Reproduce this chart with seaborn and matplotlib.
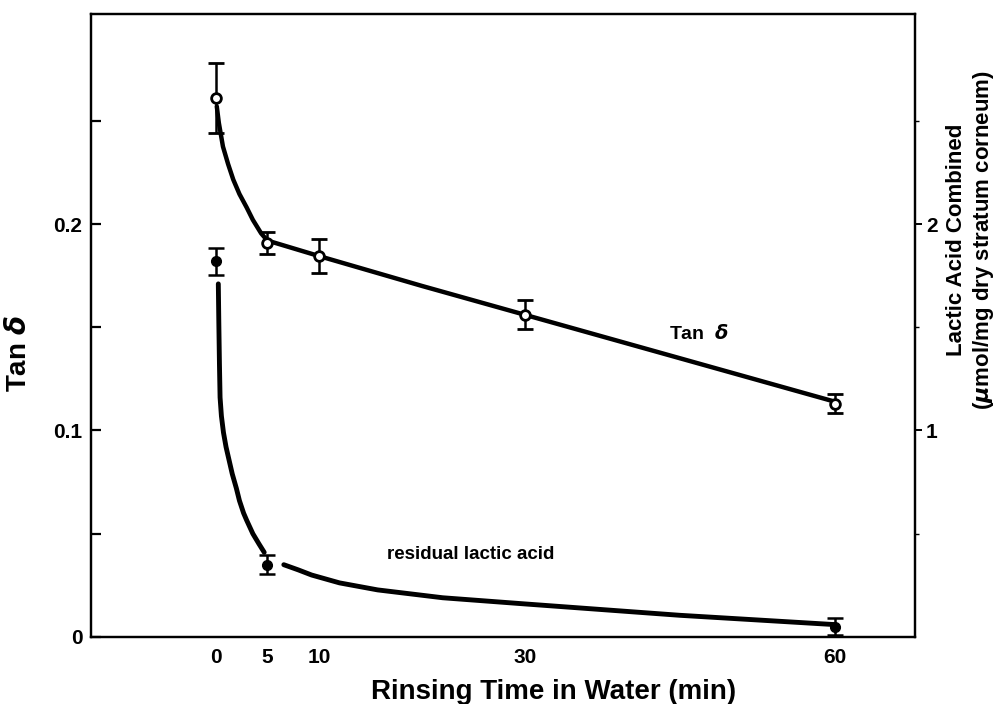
import numpy as np
import pandas as pd
import seaborn as sns
import matplotlib.pyplot as plt
from matplotlib.ticker import FixedLocator

# measured points (Tan delta on left axis, lactic acid on right axis)
time_pts = [0, 5, 10, 30, 60]
tan_delta = [0.261, 0.191, 0.1845, 0.156, 0.113]
tan_delta_err = [0.017, 0.0053, 0.008, 0.007, 0.0046]

lactic_time = [0, 5, 60]
lactic_acid = [1.82, 0.35, 0.05]          # umol/mg (right axis)
lactic_err = [0.065, 0.047, 0.04]

# hand-drawn fitted curves
tan_curve_t = [0.1, 0.3, 0.7, 1.2, 1.7, 2.3, 3.0, 3.6, 4.4, 5, 10, 20, 30, 45, 60]
tan_curve_y = [0.257, 0.249, 0.2375, 0.229, 0.2215, 0.2145, 0.208, 0.202, 0.1955,
               0.192, 0.1845, 0.170, 0.156, 0.135, 0.114]

lac_curve1_t = [0.25, 0.3, 0.36, 0.42, 0.55, 0.75, 1.0, 1.3, 1.6, 2.0, 2.3, 2.7, 3.0, 3.6, 4.2, 4.7]
lac_curve1_y = [1.71, 1.52, 1.32, 1.16, 1.07, 0.99, 0.92, 0.855, 0.79, 0.72, 0.66, 0.60, 0.565,
                0.50, 0.45, 0.41]
lac_curve2_t = [6.6, 8.0, 9.3, 12, 15.7, 22, 30, 45, 60]
lac_curve2_y = [0.35, 0.325, 0.30, 0.262, 0.228, 0.19, 0.16, 0.105, 0.06]

sns.set_style("white")
plt.rcParams['font.family'] = ['Liberation Sans', 'DejaVu Sans']
plt.rcParams['font.weight'] = 'bold'
plt.rcParams['axes.linewidth'] = 1.6
plt.rcParams['text.color'] = 'black'
plt.rcParams['axes.labelcolor'] = 'black'
plt.rcParams['xtick.color'] = 'black'
plt.rcParams['ytick.color'] = 'black'
plt.rcParams['lines.solid_joinstyle'] = 'round'
plt.rcParams['lines.solid_capstyle'] = 'round'

fig = plt.figure(figsize=(10.05, 7.04), dpi=100)
ax = fig.add_axes([0.0905, 0.0952, 0.8199, 0.8849])
ax2 = ax.twinx()

# curves
sns.lineplot(x=tan_curve_t, y=tan_curve_y, ax=ax, color='black', lw=3.2, sort=False)
sns.lineplot(x=lac_curve1_t, y=lac_curve1_y, ax=ax2, color='black', lw=3.5, sort=False)
sns.lineplot(x=lac_curve2_t, y=lac_curve2_y, ax=ax2, color='black', lw=3.5, sort=False)

# points with error bars
ax.errorbar(time_pts, tan_delta, yerr=tan_delta_err, fmt='o', color='black',
            mfc='white', mec='black', mew=2, ms=7, elinewidth=1.8, capsize=6, capthick=1.8, zorder=5)
ax2.errorbar(lactic_time, lactic_acid, yerr=lactic_err, fmt='o', color='black',
             mfc='black', mec='black', ms=7, elinewidth=1.8, capsize=6, capthick=1.8, zorder=5)

ax.set_xlim(-12.1, 67.8)
ax.set_ylim(0, 0.3017)
ax2.set_ylim(0, 3.017)

ax.set_xticks(time_pts)
ax.set_xticklabels([str(t) for t in time_pts])
ax.set_yticks([0, 0.05, 0.1, 0.15, 0.2, 0.25])
ax.set_yticklabels(['0', '', '0.1', '', '0.2', ''])
ax2.set_yticks([1, 2])
ax2.set_yticklabels(['1', '2'])
ax2.yaxis.set_minor_locator(FixedLocator([0.5, 1.5, 2.5]))

ax.tick_params(axis='both', direction='in', length=7.5, width=1.6, labelsize=15, pad=8)
ax.tick_params(axis='y', pad=6)
ax2.tick_params(axis='y', which='major', direction='out', length=5, width=1.4, labelsize=15, pad=3)
ax2.tick_params(axis='y', which='minor', direction='out', length=3, width=1.0)

ax.set_xlabel('Rinsing Time in Water (min)', fontsize=20, fontweight='bold')
ax.xaxis.set_label_coords(0.561, -0.068)
ax.set_ylabel(r'Tan $\delta$', fontsize=20, fontweight='bold')
ax.yaxis.set_label_coords(-0.071, 0.454)
ax2.set_ylabel('Lactic Acid Combined\n' + r'($\mu$mol/mg dry stratum corneum)',
               fontsize=16, fontweight='bold', linespacing=1.2)
ax2.yaxis.set_label_coords(1.038, 0.637)

ax.text(46.9, 0.147, r'Tan  $\delta$', fontsize=14, fontweight='bold', ha='center', va='center')
ax.text(24.7, 0.040, 'residual lactic acid', fontsize=13.5, fontweight='bold', ha='center', va='center')

for a in (ax, ax2):
    for s in a.spines.values():
        s.set_visible(True)
        s.set_color('black')

fig.savefig('out.png', dpi=100)
